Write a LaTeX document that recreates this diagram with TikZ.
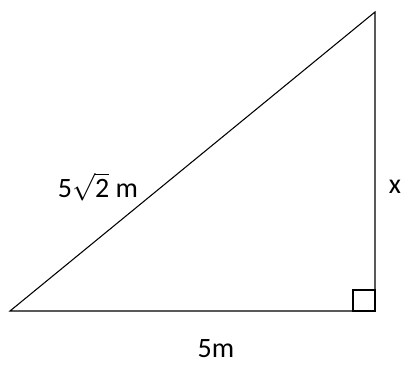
\documentclass[tikz,border=0pt]{standalone}
\usepackage{fontspec}
\setmainfont{Carlito}
\begin{document}
\begin{tikzpicture}[x=0.75pt, y=-0.75pt,
    side/.style={draw, line width=0.8pt},
    corner mark/.style={draw, line width=1.5pt},
    side label/.style={font=\fontsize{21}{25}\selectfont, inner sep=0pt}
]
    \useasboundingbox (0,0) rectangle (401,365);
    \coordinate (a) at (10,311);
    \coordinate (b) at (375,311);
    \coordinate (c) at (375,12);

    \draw[side] (a) -- (b) -- (c) -- cycle;
    \draw[corner mark] (353,311) rectangle (375,290);

    \node[side label] (hyp) at (98,187) {5$\sqrt{\mbox{2}}$ m};
    \node[side label] (h) at (395,187) {x};
    \node[side label] (base) at (216,349) {5m};
\end{tikzpicture}
\end{document}
